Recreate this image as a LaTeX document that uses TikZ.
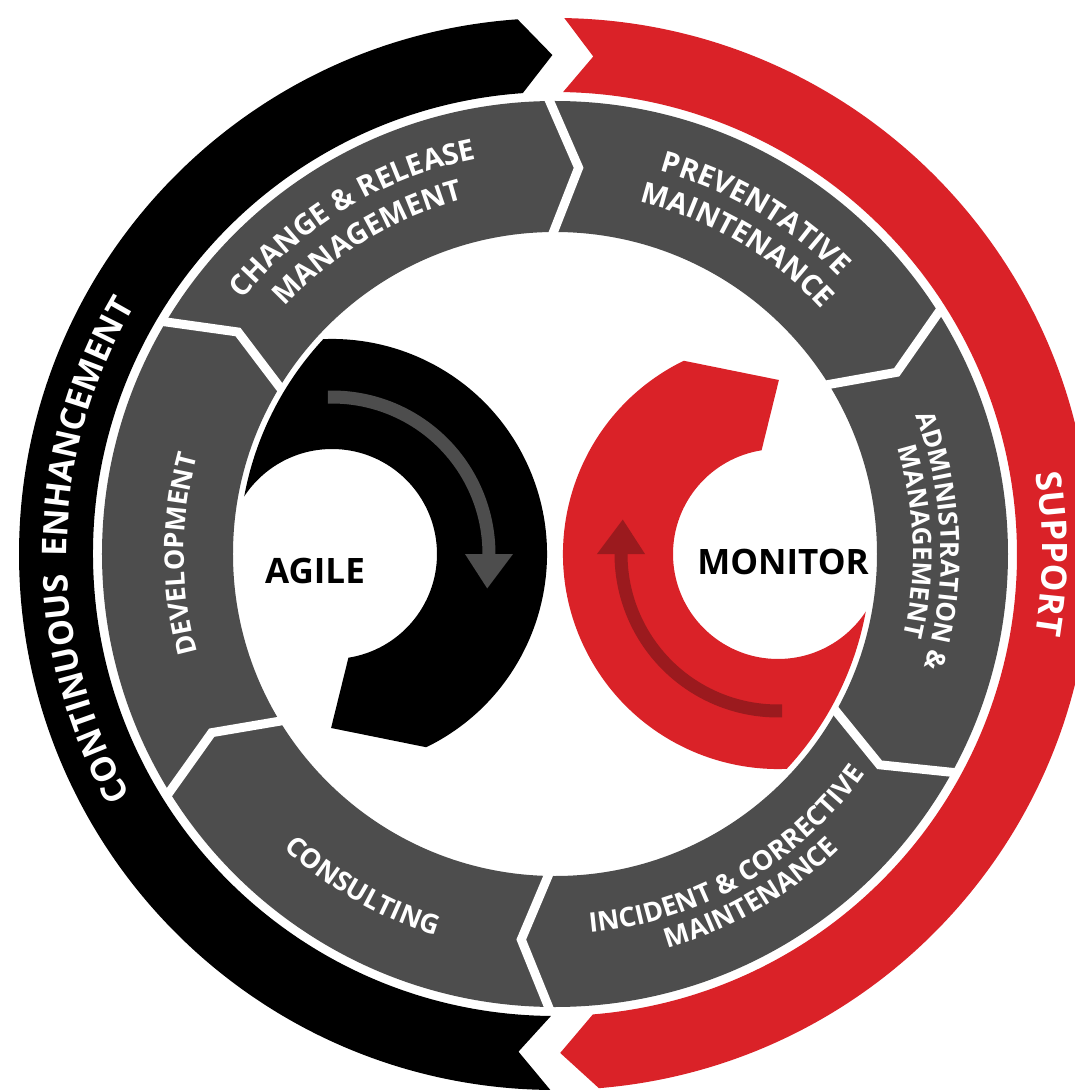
\documentclass[tikz,border=0pt]{standalone}
\usepackage{fontspec}
\setmainfont{Open Sans}
\usepackage{tikz}
\usetikzlibrary{calc, decorations.text}
\definecolor{ringgray}{HTML}{4D4D4D}
\definecolor{ringred}{HTML}{DA2228}
\definecolor{loopred}{HTML}{DA2228}
\definecolor{arrowred}{HTML}{9B1A1E}
\tikzset{
  hub/.style={font=\bfseries\fontsize{35}{35}\selectfont, text=black, inner sep=0pt},
  gap/.style={white, line width=9pt, line join=miter},
}
% text on an arc, letters outward (clockwise path)
\newcommand{\OutText}[4]{%
  \edef\tang{#1}%
  \edef\trad{#2}%
  \path[decorate, decoration={text along path, text align=center, text color=white,
      text={|\bfseries\fontsize{#3}{#3}\selectfont|#4}}]
    (\tang+80:\trad) arc[start angle=\tang+80, end angle=\tang-80, radius=\trad];%
}
% text on an arc, letters inward (counter-clockwise path)
\newcommand{\InText}[4]{%
  \edef\tang{#1}%
  \edef\trad{#2}%
  \path[decorate, decoration={text along path, text align=center, text color=white,
      text={|\bfseries\fontsize{#3}{#3}\selectfont|#4}}]
    (\tang-80:\trad) arc[start angle=\tang-80, end angle=\tang+80, radius=\trad];%
}
\newcommand{\Loop}[3][0]{%
  \edef\lrot{#1}%
  \edef\lfill{#2}%
  \edef\larrow{#3}%
  \begin{scope}[rotate=\lrot]
    \clip (0,0) circle (316);
    \begin{scope}[shift={(-223,0)}]
      \fill[\lfill] (-64:215) arc[start angle=-64, end angle=180, radius=215] -- (180:105)
        arc[start angle=180, end angle=-81, radius=105] -- (-90.3:174) -- cycle;
      \draw[\larrow, line width=13pt] (91.5:157) arc[start angle=91.5, end angle=0, radius=157];
      \fill[\larrow] (0:133) -- (0:181) -- (-12.5:159) -- cycle;
    \end{scope}
  \end{scope}%
}

\begin{document}
\begin{tikzpicture}[x=1pt, y=1pt]
  \def\ro{536}
  \def\ri{462}
  \def\rm{499}
  \def\go{453}
  \def\gi{322}
  \def\gm{387}

  \coordinate (O) at (0,0);
  \fill[white] (-555,-536) rectangle (520,554);
  \useasboundingbox (-555,-536) rectangle (520,554);

  % outer ring
  \fill[black] (269.5:\ro) arc[start angle=269.5, end angle=94, radius=\ro] -- (90.3:\rm)
    -- (94:\ri) arc[start angle=94, end angle=269.5, radius=\ri] -- (265.8:\rm) -- cycle;
  \fill[ringred] (89:\ro) arc[start angle=89, end angle=-85.3, radius=\ro] -- (-89.4:\rm)
    -- (-85.3:\ri) arc[start angle=-85.3, end angle=89, radius=\ri] -- (85.6:\rm) -- cycle;

  % inner ring of six steps
  \fill[ringgray, even odd rule] (O) circle (\go) (O) circle (\gi);
  \foreach \b in {91, 32.5, -28.5, -90.5, 212, 149.5}
    \draw[gap] (\b:459) -- (\b-4.5:\gm) -- (\b:312);

  \Loop{black}{ringgray}
  \Loop[180]{loopred}{arrowred}

  \node[hub] (agile) at (-240,-17) {AGILE};
  \node[hub] (monitor) at (228,-8) {MONITOR};

  \OutText{121}{403}{29}{CHANGE {\&} RELEASE}
  \OutText{121}{366}{29}{MANAGEMENT}
  \OutText{59.5}{397}{29}{PREVENTATIVE}
  \OutText{59.5}{362}{29}{MAINTENANCE}
  \OutText{2}{386}{26}{ADMINISTRATION {\&}}
  \OutText{2}{358}{26}{MANAGEMENT}
  \OutText{180}{371}{27}{DEVELOPMENT}
  \InText{240}{400}{27}{CONSULTING}
  \InText{-60}{380}{27}{INCIDENT {\&} CORRECTIVE}
  \InText{-60}{410}{27}{MAINTENANCE}

  \OutText{179.5}{488}{34}{CONTINUOUS {\ }ENHANCEMENT}
  \OutText{0}{487}{35}{SUPPORT}
\end{tikzpicture}
\end{document}
